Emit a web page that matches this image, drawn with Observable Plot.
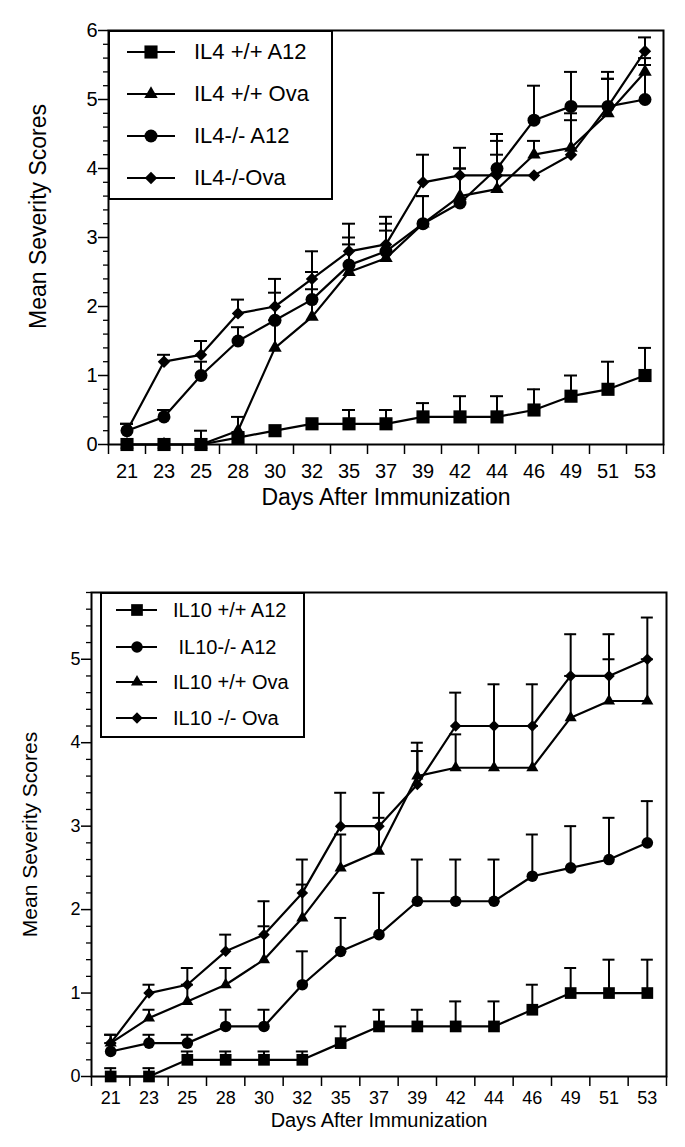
<!DOCTYPE html>
<html><head><meta charset="utf-8">
<script src="https://cdn.jsdelivr.net/npm/d3@7"></script>
<script src="https://cdn.jsdelivr.net/npm/@observablehq/plot@0.6"></script>
<style>
body{margin:0;background:#fff;font-family:"Liberation Sans",Arial,Helvetica,sans-serif;}
.panel{position:relative;width:685px;}
.legend{position:absolute;border:2px solid #000;background:#fff;box-sizing:border-box;}
.legend .row{position:absolute;left:0;display:flex;align-items:center;white-space:pre;color:#000;}
.legend svg{display:block;}
</style>
</head><body>
<div id="top" class="panel"></div>
<div id="bottom" class="panel"></div>
<script>
// ---- data ----
const days = [21,23,25,28,30,32,35,37,39,42,44,46,49,51,53];

// Top panel (IL4)
const il4WtA12   = [0,0,0,0.1,0.2,0.3,0.3,0.3,0.4,0.4,0.4,0.5,0.7,0.8,1.0];
const il4WtA12Sd = [0,0,0.2,0,0,0,0.2,0.2,0.2,0.3,0.3,0.3,0.3,0.4,0.4];
const il4WtOva   = [0,0,0,0.2,1.4,1.85,2.5,2.7,3.2,3.6,3.7,4.2,4.3,4.8,5.4];
const il4WtOvaSd = [0,0,0,0.2,0.4,0.4,0.4,0.4,0.4,0.4,0.5,0.2,0.4,0.5,0.2];
const il4KoA12   = [0.2,0.4,1.0,1.5,1.8,2.1,2.6,2.8,3.2,3.5,4.0,4.7,4.9,4.9,5.0];
const il4KoA12Sd = [0.1,0.1,0.2,0.2,0.4,0.4,0.4,0.4,0.4,0.5,0.5,0.5,0.5,0.5,0.5];
const il4KoOva   = [0.2,1.2,1.3,1.9,2.0,2.4,2.8,2.9,3.8,3.9,3.9,3.9,4.2,4.9,5.7];
const il4KoOvaSd = [0.1,0.1,0.2,0.2,0.4,0.4,0.4,0.4,0.4,0.4,0.5,0,0.6,0.4,0.2];
const il4Labels  = ["IL4 +/+ A12","IL4 +/+ Ova","IL4-/- A12","IL4-/-Ova"];

// Bottom panel (IL10)
const il10WtA12   = [0,0,0.2,0.2,0.2,0.2,0.4,0.6,0.6,0.6,0.6,0.8,1.0,1.0,1.0];
const il10WtA12Sd = [0.1,0.1,0.1,0.1,0.1,0.1,0.2,0.2,0.2,0.3,0.3,0.3,0.3,0.4,0.4];
const il10KoA12   = [0.3,0.4,0.4,0.6,0.6,1.1,1.5,1.7,2.1,2.1,2.1,2.4,2.5,2.6,2.8];
const il10KoA12Sd = [0.1,0.1,0.1,0.2,0.2,0.4,0.4,0.5,0.5,0.5,0.5,0.5,0.5,0.5,0.5];
const il10WtOva   = [0.4,0.7,0.9,1.1,1.4,1.9,2.5,2.7,3.6,3.7,3.7,3.7,4.3,4.5,4.5];
const il10WtOvaSd = [0.1,0.1,0.2,0.2,0.4,0.4,0.4,0.4,0.3,0.4,0.5,0.5,0.5,0.5,0.5];
const il10KoOva   = [0.4,1.0,1.1,1.5,1.7,2.2,3.0,3.0,3.5,4.2,4.2,4.2,4.8,4.8,5.0];
const il10KoOvaSd = [0.1,0.1,0.2,0.2,0.4,0.4,0.4,0.4,0.5,0.4,0.5,0.5,0.5,0.5,0.5];
const il10Labels  = ["IL10 +/+ A12"," IL10-/- A12","IL10 +/+ Ova","IL10 -/- Ova"];

const xTitle = "Days After Immunization";
const yTitle = "Mean Severity Scores";

const d3Symbols = {square: d3.symbolSquare, triangle: d3.symbolTriangle, circle: d3.symbolCircle, diamond2: d3.symbolDiamond2};

function chart(el, cfg) {
  const n = days.length;
  const rows = cfg.series.flatMap(s => days.map((d, i) => ({i, day: d, v: s.values[i], sd: s.sd[i], up: s.values[i] + s.sd[i], name: s.name})));
  const errRows = rows.filter(r => r.sd > 0);
  const plotW = cfg.width - cfg.ml - cfg.mr;
  const unit = plotW / n;
  const cap = cfg.capPx / unit;
  const majors = d3.range(0, Math.floor(cfg.ymax + 1e-9) + 1);
  const minors = d3.range(0, Math.round(cfg.ymax * 5) + 1).map(k => k / 5).filter(v => Math.abs(v - Math.round(v)) > 1e-9);
  const bounds = d3.range(n + 1).map(k => k - 0.5);

  const marks = [
    Plot.axisY({ticks: minors, tickSize: 5, tickFormat: () => "", label: null, strokeWidth: 1.3}),
    Plot.axisY({ticks: majors, tickSize: 10, tickPadding: cfg.yPad, tickFormat: d => String(d), label: null, strokeWidth: 1.5, fontSize: cfg.tickFont}),
    Plot.axisX({ticks: bounds, tickSize: 10, tickFormat: () => "", label: null, strokeWidth: 1.5}),
    Plot.axisX({ticks: d3.range(n), tickSize: 0, tickPadding: cfg.xPad, tickFormat: i => String(days[i]), label: null, fontSize: cfg.tickFont}),
    Plot.ruleX(errRows, {x: "i", y1: "v", y2: "up", stroke: "black", strokeWidth: 2}),
    Plot.ruleY(errRows, {y: "up", x1: d => d.i - cap, x2: d => d.i + cap, stroke: "black", strokeWidth: 2}),
    Plot.line(rows, {x: "i", y: "v", z: "name", stroke: "black", strokeWidth: 2.2}),
    ...cfg.series.map(s => Plot.dot(rows.filter(r => r.name === s.name), {x: "i", y: "v", symbol: s.symbol, r: s.r, fill: "black"})),
    Plot.frame({stroke: "black", strokeWidth: 2}),
    Plot.text([xTitle], {text: d => d, frameAnchor: "bottom", lineAnchor: "middle", textAnchor: "middle", dy: cfg.xTitleDy, fontSize: cfg.titleFont, fill: "black"}),
    Plot.text([yTitle], {text: d => d, frameAnchor: "left", lineAnchor: "middle", textAnchor: "middle", rotate: -90, dx: cfg.yTitleDx, dy: cfg.yTitleDy, fontSize: cfg.yTitleFont, fill: "black"})
  ];

  const svg = Plot.plot({
    width: cfg.width, height: cfg.height,
    marginTop: cfg.mt, marginBottom: cfg.mb, marginLeft: cfg.ml, marginRight: cfg.mr,
    x: {type: "linear", domain: [-0.5, n - 0.5]},
    y: {domain: [0, cfg.ymax]},
    style: {fontFamily: '"Liberation Sans", Arial, Helvetica, sans-serif', fontSize: cfg.tickFont + "px", color: "black", background: "white", overflow: "visible"},
    marks
  });
  el.appendChild(svg);

  // legend overlay
  const L = cfg.legend;
  const box = d3.select(el).append("div").attr("class", "legend")
    .style("left", L.left + "px").style("top", L.top + "px")
    .style("width", L.w + "px").style("height", L.h + "px");
  cfg.series.forEach((s, k) => {
    const row = box.append("div").attr("class", "row")
      .style("top", (L.rows[k] - 2 - 14) + "px").style("height", "28px")
      .style("font-size", L.font + "px");
    const sv = row.append("svg").attr("width", L.textX).attr("height", 28);
    sv.append("line").attr("x1", L.lineX1).attr("x2", L.lineX2).attr("y1", 14).attr("y2", 14)
      .attr("stroke", "black").attr("stroke-width", 2);
    sv.append("path").attr("transform", `translate(${L.markX},14)`)
      .attr("d", d3.symbol(d3Symbols[s.symbol], Math.PI * s.r * s.r)()).attr("fill", "black");
    row.append("span").text(s.name);
  });
}

chart(document.getElementById("top"), {
  width: 685, height: 520, mt: 30, mb: 76, ml: 108, mr: 22, ymax: 6,
  capPx: 6.5, tickFont: 20, titleFont: 23, yTitleFont: 23, yPad: 1, xPad: 19,
  xTitleDy: 53, yTitleDx: -70, yTitleDy: -21,
  series: [
    {name: il4Labels[0], values: il4WtA12, sd: il4WtA12Sd, symbol: "square", r: 7.4},
    {name: il4Labels[1], values: il4WtOva, sd: il4WtOvaSd, symbol: "triangle", r: 5},
    {name: il4Labels[2], values: il4KoA12, sd: il4KoA12Sd, symbol: "circle", r: 6.5},
    {name: il4Labels[3], values: il4KoOva, sd: il4KoOvaSd, symbol: "diamond2", r: 5.6}
  ],
  legend: {left: 108, top: 30, w: 225, h: 170, rows: [22, 64, 106, 148], lineX1: 17, lineX2: 65, markX: 41, textX: 84, font: 22}
});

chart(document.getElementById("bottom"), {
  width: 685, height: 627, mt: 72, mb: 71, ml: 91, mr: 19, ymax: 5.8,
  capPx: 6, tickFont: 18, titleFont: 20, yTitleFont: 21, yPad: 1, xPad: 15,
  xTitleDy: 44, yTitleDx: -61, yTitleDy: 0,
  series: [
    {name: il10Labels[0], values: il10WtA12, sd: il10WtA12Sd, symbol: "square", r: 6.6},
    {name: il10Labels[1], values: il10KoA12, sd: il10KoA12Sd, symbol: "circle", r: 5.8},
    {name: il10Labels[2], values: il10WtOva, sd: il10WtOvaSd, symbol: "triangle", r: 4.5},
    {name: il10Labels[3], values: il10KoOva, sd: il10KoOvaSd, symbol: "diamond2", r: 5.2}
  ],
  legend: {left: 100, top: 72, w: 205, h: 146, rows: [18, 55, 90, 126], lineX1: 14, lineX2: 55, markX: 35, textX: 71, font: 20}
});
</script>
</body></html>
